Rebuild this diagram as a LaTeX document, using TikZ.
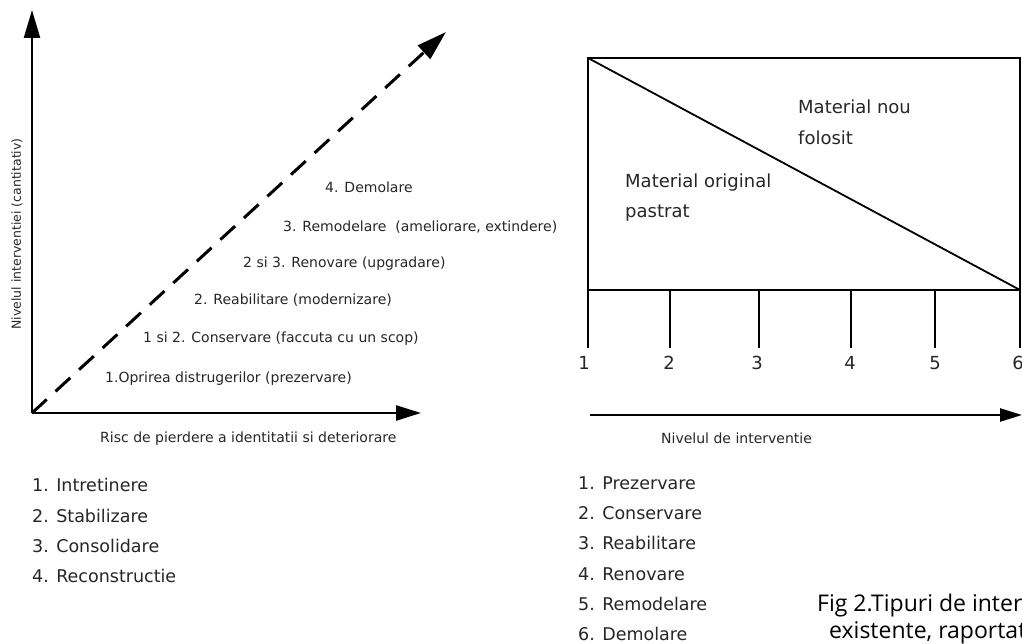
\documentclass[tikz,border=0pt]{standalone}
\usepackage{fontspec}
\setmainfont{DejaVu Sans}
\newfontfamily\capfont{Open Sans}
\usetikzlibrary{arrows.meta}
\begin{document}
\begin{tikzpicture}[x=1pt,y=-1pt,
  lbl/.style={anchor=west,inner sep=0pt,text=black!85,font=\fontsize{14}{16}\selectfont},
  lst/.style={anchor=west,inner sep=0pt,text=black!85,font=\fontsize{17.5}{20}\selectfont},
  mat/.style={anchor=west,inner sep=0pt,text=black!85,font=\fontsize{18}{21}\selectfont},
  num/.style={inner sep=0pt,text=black!85,font=\fontsize{18}{21}\selectfont},
  captxt/.style={anchor=west,inner sep=0pt,text=black,font=\capfont\fontsize{23}{27}\selectfont},
  axisln/.style={line width=2.4pt},
  boxln/.style={line width=1.8pt}]
\useasboundingbox (0,0) rectangle (1022,644);
\clip (0,0) rectangle (1022,644);
% ---- left diagram
\coordinate (O) at (32,413);
\coordinate (Ytip) at (32,10);
\coordinate (Xtip) at (421,413);
\coordinate (Dtip) at (446,32);
\draw[axisln,-{Triangle[length=28pt,width=16pt]}] (O) -- (Ytip);
\draw[axisln,-{Triangle[length=25pt,width=15pt]}] (O) -- (Xtip);
\draw[line width=3pt,dash pattern=on 20pt off 12pt,-{Triangle[length=30pt,width=18pt]}] (O) -- (Dtip);
\node[lbl] (d4) at (325,187) {4. Demolare};
\node[lbl] (d3) at (283,227) {3. Remodelare~ (ameliorare, extindere)};
\node[lbl] (d23) at (243,264) {2 si 3. Renovare (upgradare)};
\node[lbl] (d2) at (194,300) {2. Reabilitare (modernizare)};
\node[lbl] (d12) at (143,339) {1 si 2. Conservare (faccuta cu un scop)};
\node[lbl] (d1) at (105,379) {1.Oprirea distrugerilor (prezervare)};
\node[lbl] (xl) at (100,439) {Risc de pierdere a identitatii si deteriorare};
\node[lbl,anchor=center,rotate=90,font=\fontsize{12.5}{14}\selectfont] (yl) at (17,234) {Nivelul interventiei (cantitativ)};
\node[lst] (l1) at (32,485) {1. Intretinere};
\node[lst] (l2) at (32,516) {2. Stabilizare};
\node[lst] (l3) at (32,546) {3. Consolidare};
\node[lst] (l4) at (32,576) {4. Reconstructie};
% ---- right diagram
\coordinate (R1) at (588,58);
\coordinate (R2) at (1020,290);
\draw[boxln] (R1) rectangle (R2);
\draw[boxln] (R1) -- (R2);
\foreach \x/\lx/\n in {588/584/1,670/669/2,759/757/3,851/850/4,935/935/5,1020/1018/6}{
  \coordinate (ta\n) at (\x,290);
  \coordinate (tb\n) at (\x,348);
  \draw[boxln] (ta\n) -- (tb\n);
  \node[num] (k\n) at (\lx,363) {\n};
}
\node[mat] (mn1) at (798,107) {Material nou};
\node[mat] (mn2) at (798,138) {folosit};
\node[mat] (mo1) at (625,183) {Material original};
\node[mat] (mo2) at (625,213) {pastrat};
\coordinate (A1) at (590,415);
\coordinate (A2) at (1022,415);
\draw[axisln,-{Triangle[length=22pt,width=13pt]}] (A1) -- (A2);
\node[lbl] (nl) at (661,438) {Nivelul de interventie};
\node[lst] (r1) at (578,483) {1. Prezervare};
\node[lst] (r2) at (578,513) {2. Conservare};
\node[lst] (r3) at (578,543) {3. Reabilitare};
\node[lst] (r4) at (578,574) {4. Renovare};
\node[lst] (r5) at (578,604) {5. Remodelare};
\node[lst] (r6) at (578,634) {6. Demolare};
\node[captxt] (c1) at (817,606) {Fig 2.Tipuri de inter};
\node[captxt] (c2) at (829,633) {existente, raportat};
\end{tikzpicture}
\end{document}
